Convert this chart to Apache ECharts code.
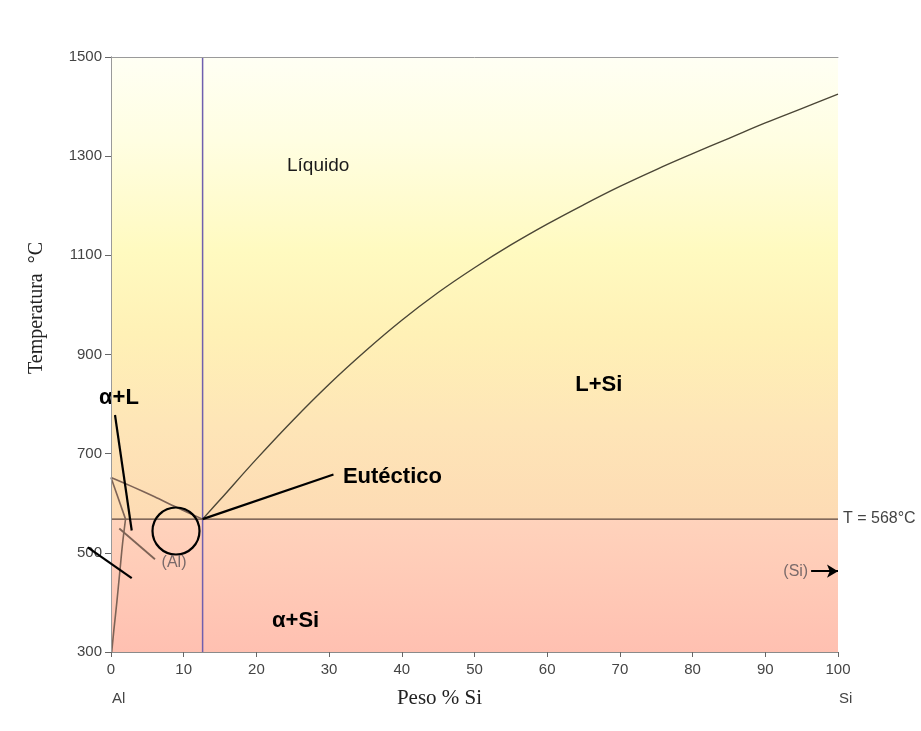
<!DOCTYPE html>
<html>
<head>
<meta charset="utf-8">
<script src="https://cdn.jsdelivr.net/npm/echarts@6/dist/echarts.min.js"></script>
<style>
  html, body { margin: 0; padding: 0; background: #ffffff; }
  #chart { width: 921px; height: 731px; }
</style>
</head>
<body>
<div id="chart"></div>
<script>
// Al–Si phase diagram (composition in wt% Si, temperature in °C)

const tempMin = 300;
const tempMax = 1500;
const tempTicks = [300, 500, 700, 900, 1100, 1300, 1500];

const eutecticX = 12.6;
const eutecticT = 568;

// Liquidus on the Si-rich side
const siLiquidusX = [12.6, 15, 20, 25, 30, 35, 40, 45, 50, 55, 60, 65, 70, 75, 80, 85, 90, 95, 100];
const siLiquidusT = [568, 607, 689, 767, 840, 907, 969, 1025, 1075, 1121, 1163, 1202, 1239, 1273, 1305, 1336, 1367, 1396, 1425];

// Liquidus on the Al-rich side
const alLiquidusX = [0, 3, 6, 9, 12.6];
const alLiquidusT = [652, 633, 613, 592, 568];

// Solidus and solvus of (Al)
const alSolidusX = [0, 2.0];
const alSolidusT = [652, 568];
const alSolvusX = [2.0, 1.6, 1.2, 0.8, 0.4, 0.1];
const alSolvusT = [568, 520, 460, 400, 345, 300];

// Pointer lines
const pointerAlphaLX = [0.55, 2.85];
const pointerAlphaLT = [778, 545];
const pointerAlphaX = [-3.2, 2.85];
const pointerAlphaT = [511, 449];
const pointerEutX = [12.6, 30.6];
const pointerEutT = [568, 658];
const pointerAlX = [1.14, 6.05];
const pointerAlT = [549, 487];
const circleX = 8.94;
const circleT = 544;
const siArrowX = [96.3, 100];
const siArrowT = [463, 463];

// Region and annotation labels
const boldTexts = ['α+L', 'L+Si', 'α+Si'];
const boldX = [1.1, 67.1, 25.4];
const boldT = [812, 838, 362];
const eutText = 'Eutéctico';
const eutLabelX = 31.9;
const eutLabelT = 653;
const liqText = 'Líquido';
const liqX = 28.5;
const liqT = 1280;
const phaseTexts = ['(Al)', '(Si)'];
const phaseX = [8.67, 95.9];
const phaseT = [481, 463];
const eutTempText = 'T = 568°C';
const endTexts = ['Al', 'Si'];
const endX = [0, 100];

const zip = (xs, ts) => xs.map((x, i) => [x, ts[i]]);
const SANS = '"Liberation Sans", Arial, sans-serif';
const SERIF = '"Liberation Serif", "Times New Roman", serif';
const grad = (stops) => new echarts.graphic.LinearGradient(0, 0, 0, 1,
  stops.map(s => ({ offset: s[0], color: s[1] })));

const chart = echarts.init(document.getElementById('chart'), null, { renderer: 'canvas' });

const lineSeries = (data, color, width, extra) => Object.assign({
  type: 'line', data, showSymbol: false, symbol: 'none', silent: true,
  lineStyle: { color, width }, animation: false, z: 3
}, extra || {});

const textItem = (value, text, style) => ({
  value,
  label: Object.assign({ show: true, formatter: text, position: 'inside', fontFamily: SANS }, style)
});

const option = {
  animation: false,
  backgroundColor: '#ffffff',
  grid: { left: 111, right: 83, top: 57, bottom: 79, containLabel: false },
  xAxis: [{
    type: 'value', min: 0, max: 100, interval: 10, z: 10,
    name: 'Peso % Si', nameLocation: 'middle', nameGap: 36,
    nameTextStyle: { fontFamily: SERIF, fontSize: 21, color: '#222', padding: [0, 70, 0, 0] },
    axisLine: { show: true, lineStyle: { color: '#8a8a8a', width: 1 } },
    axisTick: { show: true, length: 5, lineStyle: { color: '#666' } },
    axisLabel: { fontFamily: SANS, fontSize: 15, color: '#444', margin: 10, formatter: v => String(v) },
    splitLine: { show: false }
  }, {
    type: 'value', min: 0, max: 100, position: 'top', z: 10,
    axisLine: { show: true, lineStyle: { color: '#9a9a9a', width: 1 } },
    axisTick: { show: false }, axisLabel: { show: false }, splitLine: { show: false }
  }],
  yAxis: [{
    type: 'value', min: tempMin, max: tempMax, z: 10,
    axisLine: { show: true, lineStyle: { color: '#8a8a8a', width: 1 } },
    axisTick: { show: true, length: 6, customValues: tempTicks, lineStyle: { color: '#666' } },
    axisLabel: { fontFamily: SANS, fontSize: 15, color: '#444', margin: 9, customValues: tempTicks, formatter: v => String(v) },
    splitLine: { show: false }
  }, {
    type: 'value', min: tempMin, max: tempMax, position: 'right', z: 10,
    axisLine: { show: true, lineStyle: { color: '#9a9a9a', width: 1 } },
    axisTick: { show: false }, axisLabel: { show: false }, splitLine: { show: false }
  }],
  graphic: [{
    id: 'ytitle', type: 'text', x: 37, y: 308, rotation: Math.PI / 2,
    style: { text: 'Temperatura  °C', font: '20px ' + SERIF, fill: '#222', align: 'center', verticalAlign: 'middle' }
  }],
  series: [
    // background fills above and below the eutectic isotherm
    {
      type: 'line', data: [], silent: true, z: 0,
      markArea: {
        silent: true,
        data: [
          [{ coord: [0, eutecticT], itemStyle: { color: grad([[0, '#FFFFF4'], [0.18, '#FFFEE2'], [0.42, '#FFFAC0'], [0.6, '#FFF1B6'], [0.8, '#FEE5B7'], [1, '#FDDBB4']]) } },
           { coord: [100, tempMax] }],
          [{ coord: [0, tempMin], itemStyle: { color: grad([[0, '#FFD3BC'], [1, '#FFC0B1']]) } },
           { coord: [100, eutecticT] }]
        ]
      }
    },
    lineSeries([[eutecticX, tempMin], [eutecticX, tempMax]], '#6f5fae', 1.5),
    lineSeries([[0, eutecticT], [100, eutecticT]], '#5a463c', 1.3),
    lineSeries(zip(siLiquidusX, siLiquidusT), '#4b4636', 1.4, { smooth: 0.4 }),
    lineSeries(zip(alLiquidusX, alLiquidusT), '#7d6356', 1.6, { smooth: 0.3 }),
    lineSeries(zip(alSolidusX, alSolidusT), '#7d6356', 1.6),
    lineSeries(zip(alSolvusX, alSolvusT), '#7d6356', 1.6, { smooth: 0.3 }),
    lineSeries(zip(pointerAlX, pointerAlT), '#7d6356', 1.8),
    lineSeries(zip(pointerAlphaLX, pointerAlphaLT), '#000', 2.2, { z: 5 }),
    lineSeries(zip(pointerEutX, pointerEutT), '#000', 2.2, { z: 5 }),
    // arrow to the Si terminal phase
    {
      type: 'line', data: [], silent: true, z: 5,
      markLine: {
        silent: true, symbol: ['none', 'arrow'], symbolSize: [10, 11],
        label: { show: false },
        lineStyle: { color: '#000', width: 2, type: 'solid' },
        data: [[{ coord: [siArrowX[0], siArrowT[0]] }, { coord: [siArrowX[1], siArrowT[1]] }]]
      }
    },
    // circle around the eutectic corner
    {
      type: 'scatter', silent: true, z: 6,
      data: [[circleX, circleT]],
      symbol: 'circle', symbolSize: 47,
      itemStyle: { color: 'rgba(0,0,0,0)', borderColor: '#000', borderWidth: 2.2, opacity: 1 }
    },
    // text labels
    {
      type: 'scatter', silent: true, z: 7, clip: false, symbolSize: 0,
      itemStyle: { opacity: 1 },
      data: [].concat(
        boldTexts.map((t, i) => textItem([boldX[i], boldT[i]], t,
          { fontWeight: 'bold', fontSize: 22, color: '#000' })),
        [
          textItem([eutLabelX, eutLabelT], eutText, { align: 'left', fontWeight: 'bold', fontSize: 22, color: '#000' }),
          textItem([liqX, liqT], liqText, { fontSize: 19, color: '#1a1a1a' }),
          textItem([phaseX[0], phaseT[0]], phaseTexts[0], { fontSize: 16, color: '#7a6a6a' }),
          textItem([phaseX[1], phaseT[1]], phaseTexts[1], { align: 'right', fontSize: 16, color: '#7a6a6a' }),
          textItem([100, eutecticT], eutTempText, { align: 'left', offset: [5, -1], fontSize: 16, color: '#444' })
        ],
        endTexts.map((t, i) => textItem([endX[i], tempMin], t,
          { align: 'left', offset: [1, 47], fontSize: 15, color: '#444' }))
      )
    }
  ]
};

chart.setOption(option);

// pointer that reaches past the temperature axis, placed through the grid's own scales
const p0 = chart.convertToPixel({ gridIndex: 0 }, [pointerAlphaX[0], pointerAlphaT[0]]);
const p1 = chart.convertToPixel({ gridIndex: 0 }, [pointerAlphaX[1], pointerAlphaT[1]]);
chart.setOption({
  graphic: [{
    id: 'alphaPointer', type: 'line', z: 50, silent: true,
    shape: { x1: p0[0], y1: p0[1], x2: p1[0], y2: p1[1] },
    style: { stroke: '#000', lineWidth: 2.2 }
  }]
});
</script>
</body>
</html>
